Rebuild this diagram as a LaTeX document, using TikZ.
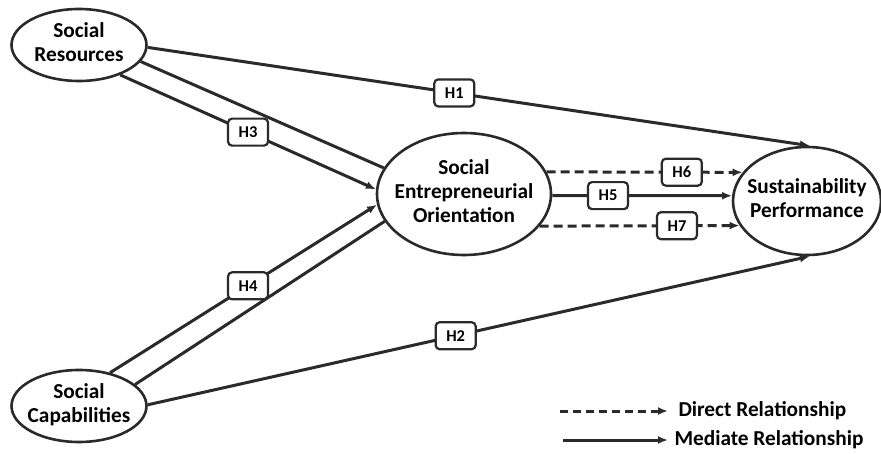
\documentclass[tikz,border=0pt]{standalone}
\usepackage{fontspec}
\setmainfont{Carlito}
\usetikzlibrary{arrows.meta,shapes.geometric}
\definecolor{ink}{HTML}{2A2A2A}
% construct text kept out of the ellipse size computation
\newcommand\ctext[1]{\makebox[0pt]{\raisebox{-2.5pt}{\begin{tabular}{@{}c@{}}#1\end{tabular}}}}
\begin{document}
\begin{tikzpicture}[x=1pt,y=-1pt,
  line width=3pt,
  construct/.style={ellipse,draw=ink,solid,line width=2.6pt,inner sep=0pt,
    font=\fontsize{21.3}{24}\selectfont\bfseries,text=black},
  hyp/.style={solid,rounded corners=4pt,draw=ink,line width=2.2pt,fill=white,
    minimum width=40pt,minimum height=27pt,inner sep=0pt,
    font=\fontsize{16.5}{18}\selectfont\bfseries},
  link/.style={draw=ink,-{Latex[length=10pt,width=8pt]}},
  plain/.style={draw=ink},
  dashlink/.style={link,dash pattern=on 9pt off 5pt},
  legendtext/.style={anchor=west,inner ysep=0pt,font=\fontsize{21.3}{24}\selectfont\bfseries}
]
\useasboundingbox (0,0) rectangle (881,454);

% constructs
\node[construct,minimum width=135pt,minimum height=72pt] (sr) at (79,45) {\ctext{Social\\Resources}};
\node[construct,minimum width=135pt,minimum height=72pt] (sc) at (79,406) {\ctext{Social\\Capabilities}};
\node[construct,minimum width=174pt,minimum height=122pt] (seo) at (464,194) {\ctext{Social\\Entrepreneurial\\Orientation}};
\node[construct,minimum width=148pt,minimum height=108pt] (sp) at (807,201) {\ctext{Sustainability\\Performance}};

% direct paths to performance
\draw[link] (sr.-2.5) -- node[hyp,pos=0.463] (h1) {H1} (sp.87);
\draw[link] (sc.1.7) -- node[hyp,pos=0.465] (h2) {H2} (sp.-87);

% paths into the orientation construct
\draw[plain] (sr.-15.6) -- (seo.162.2);
\draw[link] (sr.-36) -- node[hyp,pos=0.5] (h3) {H3} (seo.177.3);
\draw[link] (sc.47.6) -- node[hyp,pos=0.517] (h4) {H4} (seo.187.9);
\draw[plain] (sc.21.4) -- (seo.199.5);

% orientation to performance
\draw[dashlink] (seo.15.9) -- node[hyp,pos=0.69] (h6) {H6} (sp.156.7);
\draw[link] (seo.-1.3) -- node[hyp,pos=0.31] (h5) {H5} (sp.176.2);
\draw[dashlink] (seo.-23.5) -- node[hyp,pos=0.687] (h7) {H7} (sp.200.7);

% legend
\coordinate (ld) at (560,411);
\coordinate (lm) at (563,440);
\node[legendtext,inner xsep=9pt] (dtext) at (668,411) {Direct Relationship};
\node[legendtext,inner xsep=5pt] (mtext) at (668,440) {Mediate Relationship};
\draw[dashlink,dash pattern=on 8pt off 5pt] (ld) -- (dtext.west);
\draw[link] (lm) -- (mtext.west);
\end{tikzpicture}
\end{document}
